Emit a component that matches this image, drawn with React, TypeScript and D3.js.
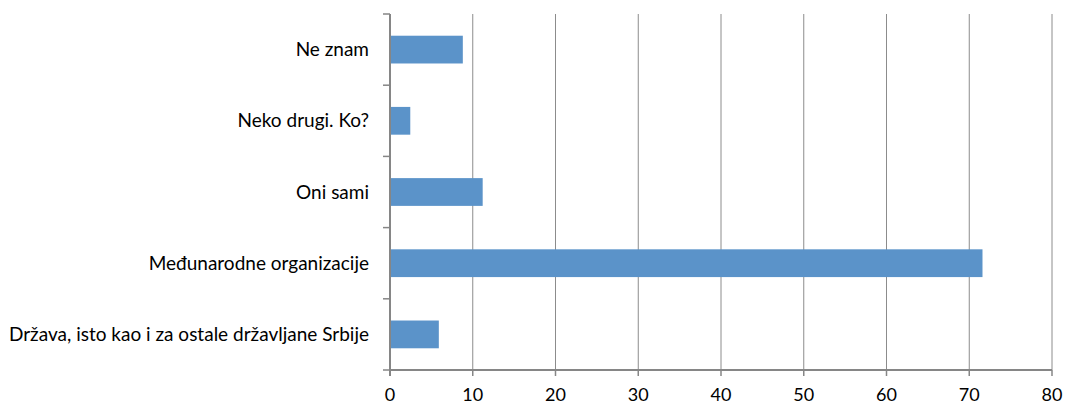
import React from 'react';
import * as d3 from 'd3';

// categories from top to bottom, as shown
const categories = [
  'Ne znam',
  'Neko drugi. Ko?',
  'Oni sami',
  'Međunarodne organizacije',
  'Država, isto kao i za ostale državljane Srbije',
];
const values = [8.8, 2.45, 11.2, 71.6, 5.9];
const xTicks = [0, 10, 20, 30, 40, 50, 60, 70, 80];

const width = 1065;
const height = 405;
const marginLeft = 390;
const marginRight = 13;
const marginTop = 14;
const marginBottom = 35;

const App = () => {
  const x = d3.scaleLinear()
    .domain([0, 80])
    .range([marginLeft, width - marginRight]);

  const y = d3.scaleBand()
    .domain(categories)
    .range([marginTop, height - marginBottom])
    .paddingInner(0.61)
    .paddingOuter(0.305);

  const step = y.step();
  const bandTop = marginTop;
  const bandBottom = height - marginBottom;
  const font = 'Lato, "Open Sans", sans-serif';

  return (
    <svg width={width} height={height} style={{ position: 'absolute', left: 0, top: 0 }}>
      <rect width={width} height={height} fill="#fff" />
      {/* vertical gridlines */}
      {xTicks.filter(t => t > 0).map(t => (
        <line key={'g' + t} x1={x(t)} x2={x(t)} y1={bandTop} y2={bandBottom} stroke="#8c8c8c" strokeWidth={1} />
      ))}
      {/* bars */}
      {categories.map((c, i) => (
        <rect key={c} x={x(0)} y={y(c)} width={x(values[i]) - x(0)} height={y.bandwidth()} fill="#5b93c9" />
      ))}
      {/* y axis */}
      <line x1={x(0)} x2={x(0)} y1={bandTop} y2={bandBottom + 6} stroke="#868686" strokeWidth={2} />
      {d3.range(categories.length + 1).map(i => (
        <line key={'yt' + i} x1={x(0) - 7} x2={x(0)} y1={bandTop + i * step} y2={bandTop + i * step} stroke="#868686" strokeWidth={1.5} />
      ))}
      {categories.map(c => (
        <text key={'l' + c} x={x(0) - 21} y={y(c)! + y.bandwidth() / 2} dy="0.35em" textAnchor="end"
          fontFamily={font} fontSize={19} fill="#000">{c}</text>
      ))}
      {/* x axis */}
      <line x1={x(0) - 1} x2={x(80)} y1={bandBottom} y2={bandBottom} stroke="#868686" strokeWidth={2} />
      {xTicks.map(t => (
        <g key={'xt' + t}>
          <line x1={x(t)} x2={x(t)} y1={bandBottom} y2={bandBottom + 6} stroke="#868686" strokeWidth={1.5} />
          <text x={x(t)} y={401} textAnchor="middle" fontFamily={font} fontSize={18} fill="#000">{t}</text>
        </g>
      ))}
    </svg>
  );
};

export default App;
